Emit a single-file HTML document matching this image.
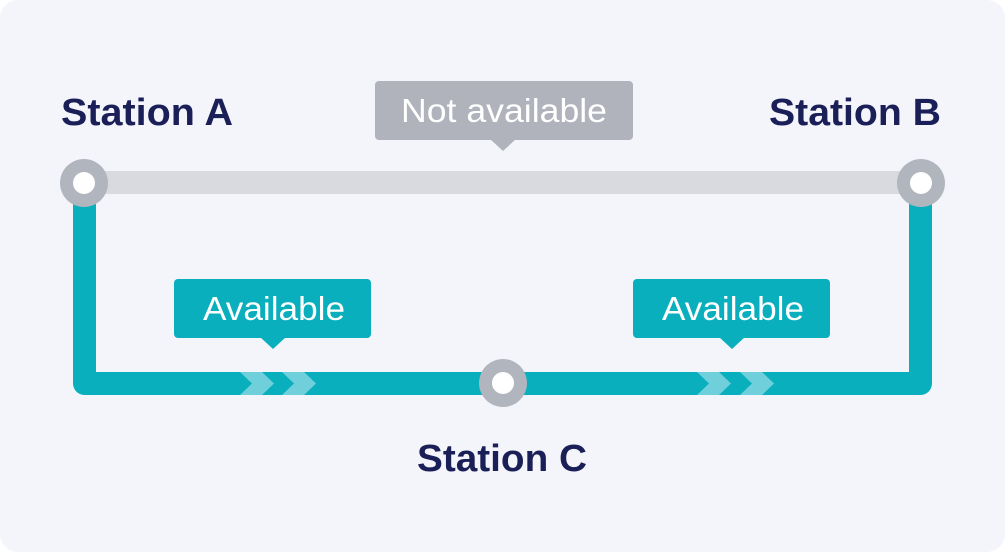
<!DOCTYPE html>
<html><head><meta charset="utf-8"><style>
html,body{margin:0;padding:0;background:#fff;}
svg{display:block}
text{font-family:"Liberation Sans",sans-serif;}
</style></head><body>
<svg width="1005" height="552" viewBox="0 0 1005 552" xmlns="http://www.w3.org/2000/svg">
<rect x="0" y="0" width="1005" height="552" rx="18" fill="#f4f5fb"/>
<rect x="84" y="171" width="838" height="23" fill="#d8dae0"/>
<path d="M84.5 183 V383.5 H920.5 V183" fill="none" stroke="#0aafbd" stroke-width="23" stroke-linejoin="round"/>
<g fill="#6fd0dc">
<polygon points="240,372 262,372 274,383.5 262,395 240,395 252,383.5"/>
<polygon points="282,372 304,372 316,383.5 304,395 282,395 294,383.5"/>
<polygon points="697,372 719,372 731,383.5 719,395 697,395 709,383.5"/>
<polygon points="740,372 762,372 774,383.5 762,395 740,395 752,383.5"/>
</g>
<g>
<circle cx="84" cy="183" r="24" fill="#b1b5bd"/><circle cx="84" cy="183" r="11" fill="#fff"/>
<circle cx="921" cy="183" r="24" fill="#b1b5bd"/><circle cx="921" cy="183" r="11" fill="#fff"/>
<circle cx="503" cy="383" r="24" fill="#b1b5bd"/><circle cx="503" cy="383" r="11" fill="#fff"/>
</g>
<rect x="375" y="81" width="258" height="59" rx="4" fill="#b0b3bc"/>
<polygon points="490,139 516,139 503,151" fill="#b0b3bc"/>
<text x="504" y="122" font-size="33" fill="#fff" text-anchor="middle" textLength="206" lengthAdjust="spacingAndGlyphs">Not available</text>
<rect x="174" y="279" width="197" height="59" rx="4" fill="#0aafbd"/>
<polygon points="260,337 286,337 273,349" fill="#0aafbd"/>
<text x="274" y="320" font-size="33" fill="#fff" text-anchor="middle" textLength="142" lengthAdjust="spacingAndGlyphs">Available</text>
<rect x="633" y="279" width="197" height="59" rx="4" fill="#0aafbd"/>
<polygon points="719,337 745,337 732,349" fill="#0aafbd"/>
<text x="733" y="320" font-size="33" fill="#fff" text-anchor="middle" textLength="142" lengthAdjust="spacingAndGlyphs">Available</text>
<g fill="#1b1f57" font-weight="bold" font-size="38">
<text x="61" y="125" textLength="172" lengthAdjust="spacingAndGlyphs">Station A</text>
<text x="769" y="125" textLength="172" lengthAdjust="spacingAndGlyphs">Station B</text>
<text x="417" y="471" textLength="170" lengthAdjust="spacingAndGlyphs">Station C</text>
</g>
</svg>
</body></html>
